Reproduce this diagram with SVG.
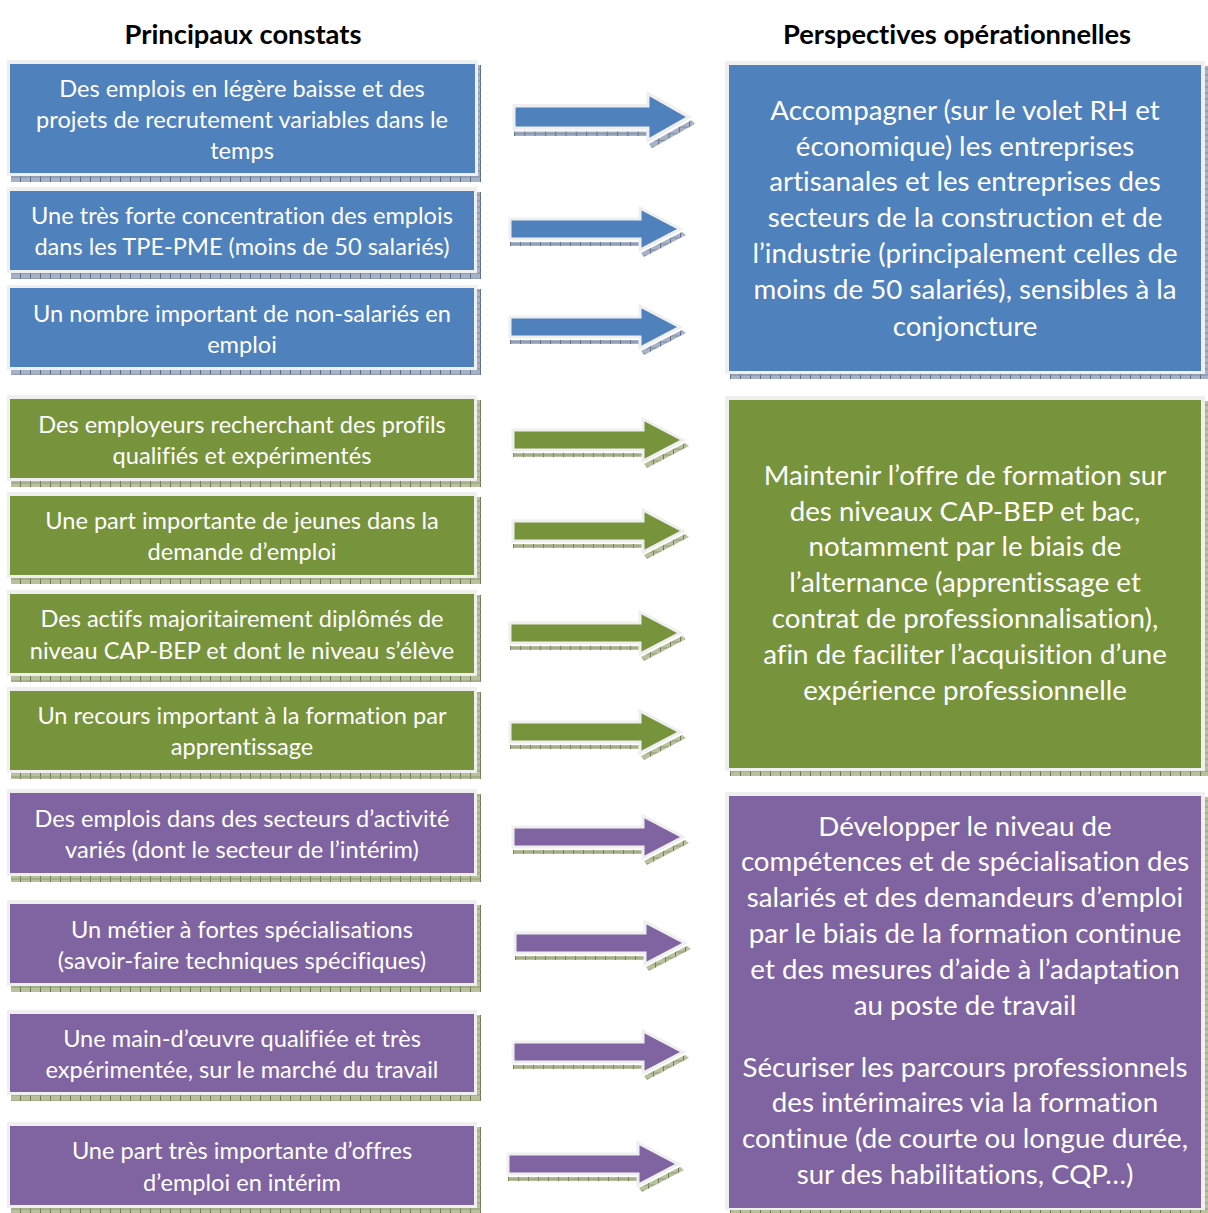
<svg xmlns="http://www.w3.org/2000/svg" xmlns:xlink="http://www.w3.org/1999/xlink" width="1208" height="1213" viewBox="0 0 1208 1213">
<style>
text{font-variant-ligatures:none}
.hdr{font-family:Lato,"Liberation Sans",sans-serif;font-weight:bold;font-size:27.3px;fill:#000;text-anchor:middle}
.lt{font-family:Lato,"Liberation Sans",sans-serif;font-size:23.6px;fill:#fff;text-anchor:middle}
.rt{font-family:Lato,"Liberation Sans",sans-serif;font-size:27.7px;fill:#fff;text-anchor:middle}
.frame{fill:#efefef}
.blue{fill:#4f81bd}
.green{fill:#77933c}
.purple{fill:#8064a2}
.shB{fill:url(#hatchB)}
.shG{fill:url(#hatchG)}
.arr{stroke:#efefef;stroke-width:3;stroke-linejoin:miter}
</style>
<defs>
<pattern id="hatchB" width="10" height="6" patternUnits="userSpaceOnUse">
<rect width="10" height="6" fill="#a7b2c6"/>
<rect x="0" y="0" width="1" height="6" fill="#5d6e8a"/>
<rect x="0" y="2.5" width="10" height="1" fill="#7d8ba3"/>
</pattern>
<pattern id="hatchG" width="10" height="6" patternUnits="userSpaceOnUse">
<rect width="10" height="6" fill="#b8c09e"/>
<rect x="0" y="0" width="1" height="6" fill="#6f7a52"/>
<rect x="0" y="2.5" width="10" height="1" fill="#939c76"/>
</pattern>
<polygon id="arrowPoly" points="0,-10 130,-10 130,-21 170,0 130,21 130,10 0,10"/>
<polygon id="arrowShadow" points="0,13 130,13 130,17 0,17"/>
<polygon id="headShadow" points="131,24 172,3 176,6 134,28"/>
</defs>

<text class="hdr" x="243" y="44">Principaux constats</text>
<text class="hdr" x="957" y="44">Perspectives opérationnelles</text>

<g id="connectors">
<g id="a1" transform="translate(514,117) scale(1.03,1.12)"><use href="#arrowShadow" class="shB"/><use href="#headShadow" class="shB"/><use href="#arrowPoly" class="blue arr"/></g>
<g id="a2" transform="translate(510,229)"><use href="#arrowShadow" class="shB"/><use href="#headShadow" class="shB"/><use href="#arrowPoly" class="blue arr"/></g>
<g id="a3" transform="translate(510,327)"><use href="#arrowShadow" class="shB"/><use href="#headShadow" class="shB"/><use href="#arrowPoly" class="blue arr"/></g>
<g id="a4" transform="translate(513,440)"><use href="#arrowShadow" class="shG"/><use href="#headShadow" class="shG"/><use href="#arrowPoly" class="green arr"/></g>
<g id="a5" transform="translate(513,531)"><use href="#arrowShadow" class="shG"/><use href="#headShadow" class="shG"/><use href="#arrowPoly" class="green arr"/></g>
<g id="a6" transform="translate(510,633)"><use href="#arrowShadow" class="shG"/><use href="#headShadow" class="shG"/><use href="#arrowPoly" class="green arr"/></g>
<g id="a7" transform="translate(510,732)"><use href="#arrowShadow" class="shG"/><use href="#headShadow" class="shG"/><use href="#arrowPoly" class="green arr"/></g>
<g id="a8" transform="translate(513,837)"><use href="#arrowShadow" class="shG"/><use href="#headShadow" class="shG"/><use href="#arrowPoly" class="purple arr"/></g>
<g id="a9" transform="translate(515,943)"><use href="#arrowShadow" class="shG"/><use href="#headShadow" class="shG"/><use href="#arrowPoly" class="purple arr"/></g>
<g id="a10" transform="translate(513,1052)"><use href="#arrowShadow" class="shG"/><use href="#headShadow" class="shG"/><use href="#arrowPoly" class="purple arr"/></g>
<g id="a11" transform="translate(508,1164)"><use href="#arrowShadow" class="shG"/><use href="#headShadow" class="shG"/><use href="#arrowPoly" class="purple arr"/></g>
</g>

<g id="l1">
<rect class="shB" x="11" y="65" width="470" height="117"/>
<rect class="frame" x="7" y="60" width="471" height="116"/>
<rect class="blue" x="10" y="64" width="465" height="109"/>
<text class="lt" x="242" y="97">Des emplois en légère baisse et des</text>
<text class="lt" x="242" y="128">projets de recrutement variables dans le</text>
<text class="lt" x="242" y="159">temps</text>
</g>
<g id="l2">
<rect class="shB" x="11" y="192" width="470" height="87"/>
<rect class="frame" x="7" y="187" width="470" height="86"/>
<rect class="blue" x="10" y="191" width="464" height="79"/>
<text class="lt" x="242" y="224">Une très forte concentration des emplois</text>
<text class="lt" x="242" y="255">dans les TPE-PME (moins de 50 salariés)</text>
</g>
<g id="l3">
<rect class="shB" x="11" y="289" width="470" height="86"/>
<rect class="frame" x="7" y="285" width="470" height="85"/>
<rect class="blue" x="10" y="288" width="464" height="79"/>
<text class="lt" x="242" y="322">Un nombre important de non-salariés en</text>
<text class="lt" x="242" y="353">emploi</text>
</g>

<g id="l4">
<rect class="shG" x="11" y="400" width="470" height="87"/>
<rect class="frame" x="7" y="395" width="470" height="86"/>
<rect class="green" x="10" y="399" width="464" height="79"/>
<text class="lt" x="242" y="433">Des employeurs recherchant des profils</text>
<text class="lt" x="242" y="464">qualifiés et expérimentés</text>
</g>
<g id="l5">
<rect class="shG" x="11" y="497" width="470" height="87"/>
<rect class="frame" x="7" y="492" width="470" height="86"/>
<rect class="green" x="10" y="496" width="464" height="79"/>
<text class="lt" x="242" y="529">Une part importante de jeunes dans la</text>
<text class="lt" x="242" y="560">demande d’emploi</text>
</g>
<g id="l6">
<rect class="shG" x="11" y="595" width="470" height="87"/>
<rect class="frame" x="7" y="590" width="470" height="86"/>
<rect class="green" x="10" y="594" width="464" height="79"/>
<text class="lt" x="242" y="627">Des actifs majoritairement diplômés de</text>
<text class="lt" x="242" y="659">niveau CAP-BEP et dont le niveau s’élève</text>
</g>
<g id="l7">
<rect class="shG" x="11" y="692" width="470" height="87"/>
<rect class="frame" x="7" y="687" width="470" height="86"/>
<rect class="green" x="10" y="691" width="464" height="79"/>
<text class="lt" x="242" y="724">Un recours important à la formation par</text>
<text class="lt" x="242" y="755">apprentissage</text>
</g>

<g id="l8">
<rect class="shG" x="11" y="794" width="470" height="88"/>
<rect class="frame" x="7" y="789" width="470" height="87"/>
<rect class="purple" x="10" y="793" width="464" height="80"/>
<text class="lt" x="242" y="827">Des emplois dans des secteurs d’activité</text>
<text class="lt" x="242" y="858">variés (dont le secteur de l’intérim)</text>
</g>
<g id="l9">
<rect class="shG" x="11" y="905" width="470" height="87"/>
<rect class="frame" x="7" y="900" width="470" height="86"/>
<rect class="purple" x="10" y="904" width="464" height="79"/>
<text class="lt" x="242" y="938">Un métier à fortes spécialisations</text>
<text class="lt" x="242" y="969">(savoir-faire techniques spécifiques)</text>
</g>
<g id="l10">
<rect class="shG" x="11" y="1015" width="470" height="86"/>
<rect class="frame" x="7" y="1010" width="470" height="85"/>
<rect class="purple" x="10" y="1014" width="464" height="78"/>
<text class="lt" x="242" y="1047">Une main-d’œuvre qualifiée et très</text>
<text class="lt" x="242" y="1078">expérimentée, sur le marché du travail</text>
</g>
<g id="l11">
<rect class="shG" x="11" y="1127" width="470" height="86"/>
<rect class="frame" x="7" y="1122" width="470" height="86"/>
<rect class="purple" x="10" y="1126" width="464" height="79"/>
<text class="lt" x="242" y="1159">Une part très importante d’offres</text>
<text class="lt" x="242" y="1191">d’emploi en intérim</text>
</g>

<g id="r1">
<rect class="shB" x="730" y="66" width="478" height="313"/>
<rect class="frame" x="725" y="61" width="480" height="313"/>
<rect class="blue" x="729" y="65" width="472" height="306"/>
<text class="rt" x="965" y="120">Accompagner (sur le volet RH et</text>
<text class="rt" x="965" y="156">économique) les entreprises</text>
<text class="rt" x="965" y="191">artisanales et les entreprises des</text>
<text class="rt" x="965" y="227">secteurs de la construction et de</text>
<text class="rt" x="965" y="263">l’industrie (principalement celles de</text>
<text class="rt" x="965" y="299">moins de 50 salariés), sensibles à la</text>
<text class="rt" x="965" y="336">conjoncture</text>
</g>
<g id="r2">
<rect class="shG" x="730" y="401" width="478" height="375"/>
<rect class="frame" x="725" y="396" width="480" height="375"/>
<rect class="green" x="729" y="400" width="472" height="368"/>
<text class="rt" x="965" y="485">Maintenir l’offre de formation sur</text>
<text class="rt" x="965" y="521">des niveaux CAP-BEP et bac,</text>
<text class="rt" x="965" y="556">notamment par le biais de</text>
<text class="rt" x="965" y="592">l’alternance (apprentissage et</text>
<text class="rt" x="965" y="628">contrat de professionnalisation),</text>
<text class="rt" x="965" y="664">afin de faciliter l’acquisition d’une</text>
<text class="rt" x="965" y="700">expérience professionnelle</text>
</g>
<g id="r3">
<rect class="shG" x="730" y="797" width="478" height="416"/>
<rect class="frame" x="725" y="792" width="480" height="418"/>
<rect class="purple" x="729" y="796" width="472" height="412"/>
<text class="rt" x="965" y="836">Développer le niveau de</text>
<text class="rt" x="965" y="871">compétences et de spécialisation des</text>
<text class="rt" x="965" y="907">salariés et des demandeurs d’emploi</text>
<text class="rt" x="965" y="943">par le biais de la formation continue</text>
<text class="rt" x="965" y="979">et des mesures d’aide à l’adaptation</text>
<text class="rt" x="965" y="1015">au poste de travail</text>
<text class="rt" x="965" y="1077">Sécuriser les parcours professionnels</text>
<text class="rt" x="965" y="1112">des intérimaires via la formation</text>
<text class="rt" x="965" y="1148">continue (de courte ou longue durée,</text>
<text class="rt" x="965" y="1184">sur des habilitations, CQP…)</text>
</g>
</svg>
